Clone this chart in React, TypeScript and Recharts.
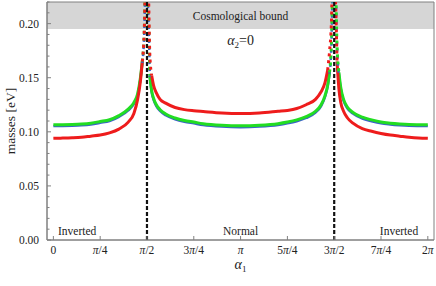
import {
  Line,
  LineChart,
  ReferenceArea,
  ReferenceDot,
  ReferenceLine,
  XAxis,
  YAxis,
} from "recharts";

// alpha_1 in units of pi
const ALPHA = [
  0, 0.05, 0.1, 0.15, 0.2, 0.25, 0.3, 0.35, 0.4, 0.43, 0.45, 0.465, 0.475, 0.485, 0.493,
  0.507, 0.515, 0.525, 0.535, 0.55, 0.57, 0.6, 0.65, 0.7, 0.75, 0.8, 0.9, 1.0, 1.1, 1.2, 1.25,
  1.3, 1.35, 1.4, 1.43, 1.45, 1.465, 1.475, 1.485, 1.493,
  1.507, 1.515, 1.525, 1.535, 1.55, 1.57, 1.6, 1.65, 1.7, 1.75, 1.8, 1.85, 1.9, 1.95, 2.0,
];

const RED = [
  0.094, 0.0942, 0.0945, 0.095, 0.096, 0.097, 0.099, 0.1025, 0.109, 0.117, 0.13, 0.147, 0.165, 0.19, 0.24,
  0.23, 0.172, 0.152, 0.143, 0.136, 0.13, 0.1265, 0.1225, 0.1205, 0.1195, 0.1188, 0.1175, 0.117, 0.1175,
  0.119, 0.1198, 0.1215, 0.125, 0.13, 0.137, 0.145, 0.157, 0.174, 0.2, 0.25,
  0.22, 0.165, 0.14, 0.127, 0.119, 0.113, 0.108, 0.103, 0.1005, 0.0985, 0.097, 0.096, 0.095, 0.0943, 0.094,
];

const GREEN = [
  0.1065, 0.1066, 0.1068, 0.1072, 0.108, 0.1095, 0.1112, 0.115, 0.121, 0.127, 0.135, 0.15, 0.165, 0.19, 0.24,
  0.21, 0.152, 0.138, 0.131, 0.125, 0.1205, 0.1165, 0.1128, 0.1105, 0.109, 0.1075, 0.106, 0.1055, 0.106,
  0.1075, 0.109, 0.111, 0.114, 0.119, 0.125, 0.133, 0.143, 0.155, 0.18, 0.23,
  0.23, 0.18, 0.155, 0.141, 0.13, 0.123, 0.118, 0.1135, 0.111, 0.109, 0.108, 0.1073, 0.1068, 0.1066, 0.1065,
];

const BLUE = [
  0.1053, 0.1054, 0.1056, 0.106, 0.1068, 0.1083, 0.11, 0.1138, 0.1198, 0.1258, 0.1338, 0.1488, 0.1638, 0.1888, 0.2388,
  0.2088, 0.1508, 0.1368, 0.1298, 0.1238, 0.1193, 0.1153, 0.1116, 0.1093, 0.1078, 0.1063, 0.1048, 0.1043, 0.1048,
  0.1063, 0.1078, 0.1098, 0.1128, 0.1178, 0.1238, 0.1318, 0.1418, 0.1538, 0.1788, 0.2288,
  0.2288, 0.1788, 0.1538, 0.1398, 0.1288, 0.1218, 0.1168, 0.1123, 0.1098, 0.1078, 0.1068, 0.1061, 0.1056, 0.1054, 0.1053,
];

const X_TICKS = [0, 0.25, 0.5, 0.75, 1, 1.25, 1.5, 1.75, 2];
const X_LABELS = ["0", "π/4", "π/2", "3π/4", "π", "5π/4", "3π/2", "7π/4", "2π"];
const Y_TICKS = [
  0, 0.01, 0.02, 0.03, 0.04, 0.05, 0.06, 0.07, 0.08, 0.09, 0.1, 0.11, 0.12, 0.13, 0.14, 0.15,
  0.16, 0.17, 0.18, 0.19, 0.2, 0.21, 0.22,
];
const POLES = [0.5, 1.5];
const BOUND = 0.195;
const X_MIN = -0.034;
const X_MAX = 2.033;
const Y_MAX = 0.22;
// above this the sampled curves look dotted near the poles
const SPARSE = 0.165;

const solid = (v: number[]) => v.map((y) => (y <= SPARSE ? y : null));
const sparse = (v: number[]) =>
  v.map((y, i) => (y > SPARSE || v[i - 1] > SPARSE || v[i + 1] > SPARSE ? y : null));

const series = { red: RED, green: GREEN, blue: BLUE };
const data = ALPHA.map((a, i) => {
  const row: Record<string, number | null> = { a };
  for (const [k, v] of Object.entries(series)) {
    row[k] = solid(v)[i];
    row[k + "Dot"] = sparse(v)[i];
  }
  return row;
});

const FONT = "'Liberation Serif', 'Times New Roman', serif";
const FRAME = "#808080";
const TXT = { fontFamily: FONT };

function PiText({ s }: { s: string }) {
  return (
    <>
      {s.split(/(π)/).map((part, i) =>
        part === "π" ? (
          <tspan key={i} fontStyle="italic">π</tspan>
        ) : (
          <tspan key={i}>{part}</tspan>
        ),
      )}
    </>
  );
}

function XTick(props: any) {
  const { x, y, payload } = props;
  const idx = X_TICKS.indexOf(payload.value);
  return (
    <g>
      <line x1={x} x2={x} y1={y} y2={y - 4} stroke={FRAME} />
      <text x={x} y={y + 14} textAnchor="middle" fontSize={11.5} style={TXT} fill="#222">
        <PiText s={X_LABELS[idx] ?? ""} />
      </text>
    </g>
  );
}

function YTick(props: any) {
  const { x, y, payload } = props;
  const v = payload.value;
  const major = Math.abs(v * 20 - Math.round(v * 20)) < 1e-6;
  return (
    <g>
      <line x1={x} x2={x + (major ? 4 : 2.5)} y1={y} y2={y} stroke={FRAME} />
      {major && (
        <text x={x - 8} y={y} dy="0.35em" textAnchor="end" fontSize={11.5} style={TXT} fill="#222">
          {v.toFixed(2)}
        </text>
      )}
    </g>
  );
}

function SubLabel({ viewBox, base, sub, tail, dy }: any) {
  const cx = viewBox.x + viewBox.width / 2;
  const cy = viewBox.y + viewBox.height / 2 + (dy ?? 0);
  return (
    <text x={cx} y={cy} textAnchor="middle" fontSize={14} style={TXT} fill="#222">
      <tspan fontStyle="italic">{base}</tspan>
      <tspan fontSize={9} dy={3}>{sub}</tspan>
      {tail ? <tspan dy={-3}>{tail}</tspan> : null}
    </text>
  );
}

function YTitle({ viewBox }: any) {
  const cx = 10;
  const cy = viewBox.y + viewBox.height / 2;
  return (
    <text
      x={cx}
      y={cy}
      textAnchor="middle"
      dominantBaseline="central"
      transform={`rotate(-90 ${cx} ${cy})`}
      fontSize={13.5}
      style={TXT}
      fill="#222"
    >
      masses [eV]
    </text>
  );
}

function Note({ viewBox, text }: any) {
  return (
    <text x={viewBox.x + viewBox.width / 2} y={viewBox.y + viewBox.height / 2} dy="0.35em"
      textAnchor="middle" fontSize={11.5} style={TXT} fill="#222">
      {text}
    </text>
  );
}

const COLORS: [string, string, number][] = [
  ["blue", "#3a62c8", 2.5],
  ["green", "#22dd22", 3],
  ["red", "#ee1c1c", 3],
];

export default function App() {
  return (
    <div style={{ width: 436, height: 286 }}>
      <style>{`body{margin:0}`}</style>
      <LineChart width={436} height={286} data={data} margin={{ top: 2, right: 2, bottom: 0, left: 0 }}>
        <XAxis
          dataKey="a"
          type="number"
          domain={[X_MIN, X_MAX]}
          ticks={X_TICKS}
          tick={<XTick />}
          tickSize={0}
          tickMargin={0}
          tickLine={false}
          axisLine={{ stroke: FRAME }}
          height={46}
          allowDataOverflow
          label={<SubLabel base="α" sub="1" dy={6} />}
        />
        <YAxis
          type="number"
          domain={[0, Y_MAX]}
          ticks={Y_TICKS}
          tick={<YTick />}
          tickSize={0}
          tickMargin={0}
          tickLine={false}
          axisLine={{ stroke: FRAME }}
          width={47}
          interval={0}
          allowDataOverflow
          label={<YTitle />}
        />
        <ReferenceArea
          y1={BOUND}
          y2={Y_MAX}
          x1={X_MIN}
          x2={X_MAX}
          fill="#d6d6d6"
          fillOpacity={1}
          stroke="none"
          label={<Note text="Cosmological bound" />}
        />
        {COLORS.map(([k, c, w]) => (
          <Line key={k} dataKey={k} type="monotone" stroke={c} strokeWidth={w} dot={false} isAnimationActive={false} />
        ))}
        {COLORS.map(([k, c, w]) => (
          <Line key={k + "Dot"} dataKey={k + "Dot"} type="monotone" stroke={c} strokeWidth={w}
            strokeDasharray="3 4" dot={false} isAnimationActive={false} />
        ))}
        {POLES.map((p) => (
          <ReferenceLine key={p} x={p} stroke="#111" strokeWidth={2.2} strokeDasharray="4 2" />
        ))}
        <ReferenceDot x={1} y={0.1806} r={0} fill="none" stroke="none" label={<SubLabel base="α" sub="2" tail="=0" />} />
        <ReferenceDot x={0.127} y={0.0083} r={0} fill="none" stroke="none" label={<Note text="Inverted" />} />
        <ReferenceDot x={1} y={0.0083} r={0} fill="none" stroke="none" label={<Note text="Normal" />} />
        <ReferenceDot x={1.846} y={0.0083} r={0} fill="none" stroke="none" label={<Note text="Inverted" />} />
        <ReferenceArea x1={X_MIN} x2={X_MAX} y1={0} y2={Y_MAX} fill="none" stroke={FRAME} />
      </LineChart>
    </div>
  );
}
